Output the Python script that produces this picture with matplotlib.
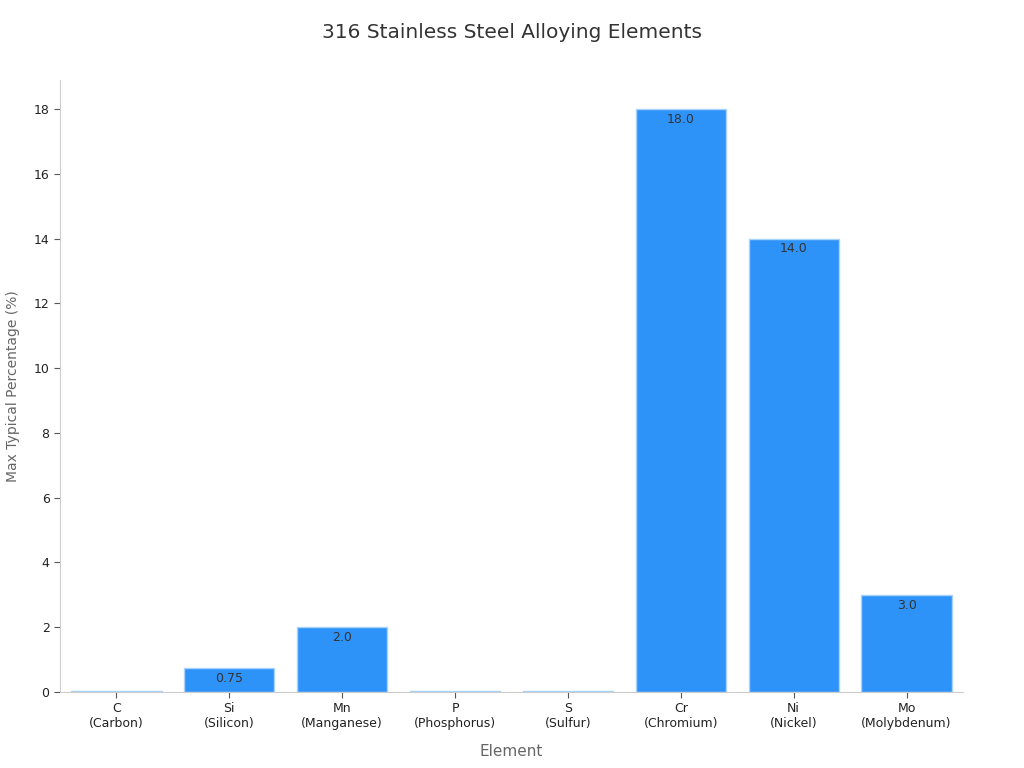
import matplotlib
matplotlib.use('Agg')
from matplotlib import pyplot as plt
import numpy as np

# Max typical composition of 316 stainless steel
elements = ['C\n(Carbon)', 'Si\n(Silicon)', 'Mn\n(Manganese)', 'P\n(Phosphorus)',
            'S\n(Sulfur)', 'Cr\n(Chromium)', 'Ni\n(Nickel)', 'Mo\n(Molybdenum)']
max_pct = [0.03, 0.75, 2.0, 0.045, 0.03, 18.0, 14.0, 3.0]
bar_labels = ['', '0.75', '2.0', '', '', '18.0', '14.0', '3.0']

bar_color = '#2e93f9'
edge_color = '#a9d2fb'
spine_color = '#cccccc'

fig = plt.figure(figsize=(10.24, 7.68), dpi=100)
ax = fig.add_axes([0.0586, 0.099, 0.8818, 0.797])

x = np.arange(len(elements))
bars = ax.bar(x, max_pct, width=0.8, color=bar_color, edgecolor=edge_color, linewidth=1)

for b, lab in zip(bars, bar_labels):
    if lab:
        ax.text(b.get_x() + b.get_width() / 2, b.get_height() - 0.12, lab,
                ha='center', va='top', fontsize=9, color='#333333')

ax.set_xlim(-0.5, len(elements) - 0.5)
ax.set_ylim(0, 18.9)
ax.set_yticks(np.arange(0, 19, 2))
ax.set_xticks(x)
ax.set_xticklabels(elements, fontsize=9, color='#222222')
ax.tick_params(axis='y', labelsize=9, labelcolor='#222222', color='#555555', length=4)
ax.tick_params(axis='x', color='#555555', length=4)

for s in ['top', 'right']:
    ax.spines[s].set_visible(False)
for s in ['left', 'bottom']:
    ax.spines[s].set_color(spine_color)

ax.set_xlabel('Element', fontsize=11, color='#666666', labelpad=10)
ax.set_ylabel('Max Typical Percentage (%)', fontsize=10, color='#666666', labelpad=10)
fig.suptitle('316 Stainless Steel Alloying Elements', fontsize=14.5, color='#333333', y=0.97)

fig.savefig('out.png', dpi=100)
